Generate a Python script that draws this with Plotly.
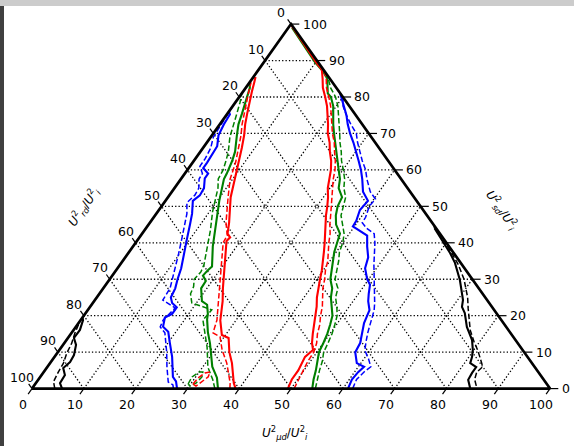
import plotly.graph_objects as go

# ---------------- data (ternary values, percent) ----------------
# each curve: r = right-axis value (U_sd^2/U_i^2), b = bottom-axis value (U_mud^2/U_i^2)
tick_values = [0, 10, 20, 30, 40, 50, 60, 70, 80, 90, 100]

red_right_solid_r = [0, 2.5, 5, 7.5, 8.7, 10.6, 12.5, 15, 17.5, 20, 22.5, 25, 27.5, 30, 32.5, 35, 37.5, 40, 42.5, 45, 47.5, 50, 52.5, 55, 57.5, 60, 62.5, 65, 67.5, 70, 72.5, 75, 77.5, 80, 82.5, 85, 87.5, 89, 95, 99.5]
red_right_solid_b = [49.4, 48.9, 48.9, 48.6, 48.35, 48.95, 47.8, 46.7, 45.7, 44.6, 43.7, 42.5, 41.5, 40.6, 39.7, 38.7, 37.6, 36.5, 35.3, 34.2, 33.0, 32.0, 30.9, 29.6, 28.6, 27.7, 26.5, 25.0, 23.7, 22.1, 20.9, 19.6, 18.2, 16.6, 14.9, 13.6, 12.2, 10.6, 4.7, 0.4]
red_right_dash_r = [0, 2.5, 5, 7.5, 10, 12.5, 15, 17.5, 20, 22.5, 25, 27.5, 30, 32.5, 35, 37.5, 40, 42.5, 45, 47.5, 50, 52.5, 55, 57.5, 60, 62.5, 65, 67.5, 70, 72.5, 75, 77.5, 80, 82.5, 85, 87.5, 89.5, 95, 99.5]
red_right_dash_b = [50.6, 50.2, 49.9, 49.5, 49.4, 48.7, 47.6, 46.8, 45.7, 44.8, 43.6, 42.4, 41.5, 40.4, 39.6, 38.4, 37.3, 36.3, 35.0, 33.9, 32.8, 31.7, 30.6, 29.4, 28.5, 27.3, 25.9, 24.6, 23.0, 21.6, 20.2, 18.9, 17.3, 15.6, 14.3, 12.6, 10.1, 4.9, 0.5]

green_right_solid_r = [0, 2.5, 5, 7.5, 10, 12.5, 15, 17.5, 20, 22.5, 25, 27.5, 30, 32.5, 35, 37.5, 40, 42.5, 45, 47.5, 50, 52.5, 55, 57.5, 60, 62.5, 65, 67.5, 70, 72.5, 75, 77.5, 80, 81, 85, 87, 89.5, 95, 99]
green_right_solid_b = [54.1, 53.1, 52.3, 51.4, 50.4, 50.0, 49.5, 48.8, 48.0, 46.6, 45.2, 44.2, 42.6, 41.6, 40.6, 39.6, 38.9, 38.2, 36.2, 34.9, 34.0, 33.6, 31.7, 30.7, 29.2, 27.7, 26.3, 24.8, 23.3, 21.9, 20.6, 19.4, 17.7, 16.6, 14.5, 12.7, 9.9, 4.6, 0.7]
green_right_dash_r = [0, 2.5, 5, 7.5, 10, 12.5, 15, 17.5, 20, 22.5, 25, 27.5, 30, 32.5, 35, 37.5, 40, 42.5, 45, 47.5, 50, 52.5, 55, 57.5, 60, 62.5, 65, 67.5, 70, 72.5, 75, 77.5, 80, 82.5, 85, 87.5, 90, 95, 99]
green_right_dash_b = [54.7, 53.8, 53.0, 52.3, 51.3, 50.9, 50.4, 49.7, 48.9, 47.6, 46.1, 45.3, 43.5, 42.6, 41.7, 40.6, 40.0, 39.0, 37.4, 35.9, 35.1, 34.3, 32.7, 31.6, 30.1, 28.5, 27.2, 25.7, 24.4, 23.0, 21.6, 20.3, 18.6, 16.4, 14.7, 12.3, 9.8, 4.8, 0.8]

blue_right_solid_r = [0, 2.5, 4.5, 6, 7, 10, 12.5, 15, 18, 21.5, 24, 26, 28.5, 30, 33, 36, 39, 42, 43.5, 44.5, 46, 49, 51.5, 54, 57.5, 60, 62.5, 65, 67.5, 70, 72.5, 75, 77.5, 80, 81]
blue_right_solid_b = [61.0, 60.5, 60.7, 61.1, 59.2, 57.4, 57.1, 56.2, 55.1, 54.4, 52.9, 52.0, 51.0, 49.7, 47.8, 46.9, 45.2, 43.7, 41.4, 39.7, 39.6, 38.8, 39.1, 36.9, 35.0, 33.5, 31.8, 30.1, 28.3, 26.4, 24.7, 23.2, 21.5, 19.8, 19.0]
blue_right_dash_r = [0, 2.5, 4.5, 6, 8, 10.5, 13, 15.5, 18.5, 21.5, 23.5, 26, 28.5, 31, 34, 37, 40, 42.5, 44, 45.5, 47, 50, 52, 54, 57.5, 60, 62.5, 65, 67.5, 70, 72.5, 75, 77.5, 79.5]
blue_right_dash_b = [61.9, 61.4, 61.8, 62.4, 61.0, 59.0, 58.0, 57.1, 56.2, 55.3, 54.4, 53.1, 51.8, 50.5, 49.0, 47.6, 46.2, 44.8, 42.6, 41.0, 40.9, 40.1, 40.3, 38.3, 35.9, 34.4, 32.5, 30.8, 29.1, 27.6, 25.3, 23.2, 21.3, 20.3]

blue_left_solid_r = [0, 2, 3.2, 8.7, 12.6, 15.6, 17, 19.5, 20.5, 22.3, 23.5, 25, 27.5, 30, 33, 37, 41, 45, 48, 51.5, 53, 55, 57.7, 59, 60.5, 62, 63.5, 66.5, 69.5, 72.5, 75.2, 76]
blue_left_solid_b = [28.0, 26.8, 25.6, 22.7, 20.3, 18.5, 16.8, 15.9, 16.8, 16.8, 15.3, 14.3, 13.9, 13.1, 12.3, 10.8, 9.4, 8.0, 6.9, 5.3, 5.9, 5.7, 4.5, 4.5, 2.8, 2.8, 2.7, 2.5, 1.25, 0.8, 0.6, 0.0]
blue_left_dash_r = [0, 1, 1.8, 5.9, 10, 15.3, 16.9, 18.8, 22.1, 24.3, 27.5, 30, 33, 37, 41, 45, 48, 51, 53, 55, 57.5, 59, 61, 63, 66, 69, 72, 75, 77.5]
blue_left_dash_b = [27.3, 26.7, 25.4, 23.1, 21.0, 18.0, 16.3, 15.9, 16.6, 13.1, 12.9, 12.1, 11.2, 9.8, 8.4, 7.0, 5.9, 4.4, 4.9, 4.7, 3.5, 3.4, 1.9, 1.9, 1.5, 0.5, 0.3, 0.2, 0.0]

green_left_solid_r = [0, 3, 6, 9, 12.5, 15.5, 19, 20.5, 23, 24, 27.5, 29.5, 31, 32.5, 33.5, 39, 43.5, 48.5, 51.5, 57.5, 59, 62.5, 65, 69.5, 72.5, 75.5, 78.5, 82.5, 84]
green_left_solid_b = [35.9, 34.2, 31.8, 30.1, 28.1, 26.2, 24.3, 23.7, 22.3, 20.8, 18.9, 18.8, 17.5, 17.7, 18.0, 15.4, 13.6, 11.5, 10.4, 8.3, 8.1, 7.4, 6.7, 4.8, 3.6, 2.8, 1.9, 0.8, 0.0]
green_left_dash_r = [0, 2.4, 5.9, 11.4, 15, 18.8, 21.6, 22.4, 22.8, 23.5, 26, 28, 30, 32, 34, 39, 43.5, 48.5, 51.5, 55, 57.5, 60, 62.5, 65, 69, 72.5, 75.5, 78.5, 81]
green_left_dash_b = [35.3, 33.7, 31.0, 28.1, 25.9, 23.6, 23.9, 21.8, 20.7, 19.1, 17.6, 17.2, 16.3, 16.6, 16.2, 14.3, 12.7, 10.6, 9.6, 8.4, 7.2, 6.9, 6.2, 5.4, 3.7, 2.6, 1.8, 0.9, 0.0]
green_loop_r = [1.26, 3.2, 4.55, 4.55, 3.2, 1.5, 0.7, 1.26]
green_loop_b = [29.5, 29.3, 30.0, 30.7, 31.2, 30.9, 30.15, 29.5]

red_left_solid_r = [0, 1.5, 7, 10, 13.9, 14.7, 18.7, 24, 27.5, 34.5, 40.5, 41.5, 42.5, 45.5, 52.5, 57.5, 62, 66, 69.5, 72.5, 75.5, 78.5, 81.5, 84, 85.5]
red_left_solid_b = [39.3, 38.2, 35.1, 33.1, 31.0, 29.3, 27.0, 24.8, 23.1, 20.0, 17.3, 17.5, 16.5, 15.3, 12.1, 10.4, 8.9, 7.5, 6.2, 4.9, 3.8, 2.7, 1.7, 0.9, 0.4]
red_left_dash_r = [0, 1.5, 7, 10.6, 14.2, 15.3, 18.8, 24, 27.5, 34.5, 40, 42, 45.5, 52.5, 57.5, 62, 66, 69.5, 72.5, 75.5, 78.5, 81.5, 84]
red_left_dash_b = [38.2, 37.5, 34.1, 31.4, 29.2, 27.3, 26.3, 24.0, 22.4, 19.3, 16.9, 16.7, 14.7, 11.6, 9.5, 8.3, 6.9, 5.6, 4.3, 3.2, 2.1, 1.1, 0.3]
red_loop_r = [1.26, 2.9, 4.3, 4.55, 3.2, 1.8, 0.7, 1.26]
red_loop_b = [30.45, 30.6, 31.25, 32.1, 32.4, 31.9, 31.3, 30.45]

black_left_solid_r = [0, 1.5, 3.7, 5.65, 7.3, 9.2, 12, 13.9, 16.1, 18.8, 19.5]
black_left_solid_b = [5.8, 4.65, 4.5, 3.2, 3.7, 3.5, 2.5, 1.15, 1.2, 0.45, 0.0]
black_left_dash_r = [0, 1.9, 4.6, 6.9, 9.7, 12.4, 15.3, 17.4, 18.5]
black_left_dash_b = [4.4, 3.2, 2.8, 2.6, 1.85, 1.45, 0.65, 0.24, 0.0]

black_right_solid_r = [44, 41.5, 39.3, 37.2, 34.5, 29.8, 25.7, 24.3, 22.4, 20.7, 16.9, 13.3, 10.6, 8.7, 7.0, 5.9, 4.3, 2.4, 0]
black_right_solid_b = [55.7, 58.1, 60.2, 62.1, 64.4, 67.7, 70.2, 71.05, 71.8, 73.2, 75.5, 78.3, 79.8, 80.6, 81.1, 82.8, 82.8, 83.0, 84.6]
black_right_dash_r = [44.5, 42, 40, 37, 34, 30, 25, 22, 20, 16, 13, 10.5, 8, 6, 4.5, 2.5, 0]
black_right_dash_b = [55.3, 57.8, 59.8, 62.6, 65.3, 68.4, 71.6, 73.2, 74.3, 76.6, 78.8, 80.8, 82.6, 84.0, 83.6, 84.2, 85.9]

left_title = "<i>U</i><sup>2</sup><sub><i>rd</i></sub>/<i>U</i><sup>2</sup><sub><i>i</i></sub>"
right_title = "<i>U</i><sup>2</sup><sub><i>sd</i></sub>/<i>U</i><sup>2</sup><sub><i>i</i></sub>"
bottom_title = "<i>U</i><sup>2</sup><sub><i>μd</i></sub>/<i>U</i><sup>2</sup><sub><i>i</i></sub>"

RED, GREEN, BLUE, BLACK = "#ff0000", "#008000", "#0000ff", "#000000"


def to_xy(b_vals, r_vals):
    """ternary (bottom, right) -> cartesian of the drawing plane"""
    return [b + r / 2.0 for b, r in zip(b_vals, r_vals)], list(r_vals)


fig = go.Figure()

# ---------------- grid (dotted) ----------------
gx, gy = [], []
for v in tick_values[1:-1]:
    x, y = to_xy([0, 100 - v], [v, v]); gx += x + [None]; gy += y + [None]
    x, y = to_xy([v, v], [0, 100 - v]); gx += x + [None]; gy += y + [None]
    x, y = to_xy([100 - v, 0], [0, 100 - v]); gx += x + [None]; gy += y + [None]
fig.add_trace(go.Scatter(x=gx, y=gy, mode="lines", hoverinfo="skip",
                         line=dict(color="black", width=1.3, dash="1.3px,2.1px")))

# ---------------- curves ----------------
curves = [
    (black_left_dash_b, black_left_dash_r, BLACK, True),
    (black_left_solid_b, black_left_solid_r, BLACK, False),
    (black_right_dash_b, black_right_dash_r, BLACK, True),
    (black_right_solid_b, black_right_solid_r, BLACK, False),
    (blue_left_dash_b, blue_left_dash_r, BLUE, True),
    (blue_left_solid_b, blue_left_solid_r, BLUE, False),
    (blue_right_dash_b, blue_right_dash_r, BLUE, True),
    (blue_right_solid_b, blue_right_solid_r, BLUE, False),
    (green_left_dash_b, green_left_dash_r, GREEN, True),
    (green_loop_b, green_loop_r, GREEN, True),
    (green_left_solid_b, green_left_solid_r, GREEN, False),
    (green_right_dash_b, green_right_dash_r, GREEN, True),
    (green_right_solid_b, green_right_solid_r, GREEN, False),
    (red_left_dash_b, red_left_dash_r, RED, True),
    (red_loop_b, red_loop_r, RED, True),
    (red_left_solid_b, red_left_solid_r, RED, False),
    (red_right_dash_b, red_right_dash_r, RED, True),
    (red_right_solid_b, red_right_solid_r, RED, False),
]
for b_vals, r_vals, col, dashed in curves:
    x, y = to_xy(b_vals, r_vals)
    fig.add_trace(go.Scatter(
        x=x, y=y, mode="lines", hoverinfo="skip",
        line=dict(color=col, width=1.5 if dashed else 2.1,
                  dash="5.5px,2.5px" if dashed else "solid")))

# ---------------- triangle border ----------------
bx, by = to_xy([0, 100, 0, 0], [0, 0, 100, 0])
fig.add_trace(go.Scatter(x=bx, y=by, mode="lines", hoverinfo="skip",
                         line=dict(color="black", width=2.7)))

# ---------------- ticks ----------------
tx, ty = [], []
for v in tick_values:
    x0, y0 = to_xy([v], [0])
    tx += [x0[0], x0[0] - 0.75, None]; ty += [0, -1.5, None]
    x0, y0 = to_xy([0], [100 - v])
    tx += [x0[0], x0[0] - 0.65, None]; ty += [y0[0], y0[0] + 1.3, None]
    x0, y0 = to_xy([100 - v], [v])
    tx += [x0[0], x0[0] + 1.6, None]; ty += [v, v, None]
fig.add_trace(go.Scatter(x=tx, y=ty, mode="lines", hoverinfo="skip",
                         line=dict(color="black", width=1.2)))

# ---------------- tick labels ----------------
FONT = dict(family="DejaVu Sans", size=12.5, color="black")
ann = []
for v in tick_values:
    x0, _ = to_xy([v], [0])
    ann.append(dict(x=x0[0] - 1.65, y=-4.25, text=str(v), xanchor="center", yanchor="middle"))
    x0, y0 = to_xy([0], [100 - v])
    ann.append(dict(x=x0[0] - 1.85, y=y0[0] + 3.1, text=str(v), xanchor="center", yanchor="middle"))
    x0, y0 = to_xy([100 - v], [v])
    ann.append(dict(x=x0[0] + 1.85, y=v, text=str(v), xanchor="left", yanchor="middle"))
for a in ann:
    a.update(xref="x", yref="y", showarrow=False, font=FONT)

TFONT = dict(family="DejaVu Sans", size=12, color="black")
ann.append(dict(x=10.0, y=49.8, text=left_title, textangle=-54.7, xref="x", yref="y",
                showarrow=False, font=TFONT))
ann.append(dict(x=90.6, y=48.9, text=right_title, textangle=54.7, xref="x", yref="y",
                showarrow=False, font=TFONT))
ann.append(dict(x=48.9, y=-12.2, text=bottom_title, xref="x", yref="y",
                showarrow=False, font=TFONT))

fig.update_layout(
    width=574, height=446,
    margin=dict(l=0, r=0, t=0, b=0),
    paper_bgcolor="white", plot_bgcolor="white",
    showlegend=False,
    annotations=ann,
    xaxis=dict(range=[-6.18, 104.63], visible=False, fixedrange=True),
    yaxis=dict(range=[-15.75, 106.61], visible=False, fixedrange=True),
    shapes=[
        dict(type="rect", xref="paper", yref="paper", x0=0, x1=1, y0=1 - 6 / 446, y1=1,
             fillcolor="#cccccc", line=dict(width=0), layer="above"),
        dict(type="rect", xref="paper", yref="paper", x0=0, x1=4 / 574, y0=0, y1=1 - 6 / 446,
             fillcolor="#404040", line=dict(width=0), layer="above"),
    ],
)

fig.write_html("out.html", config={"displayModeBar": False},
               post_script="document.body.style.margin='0';")
